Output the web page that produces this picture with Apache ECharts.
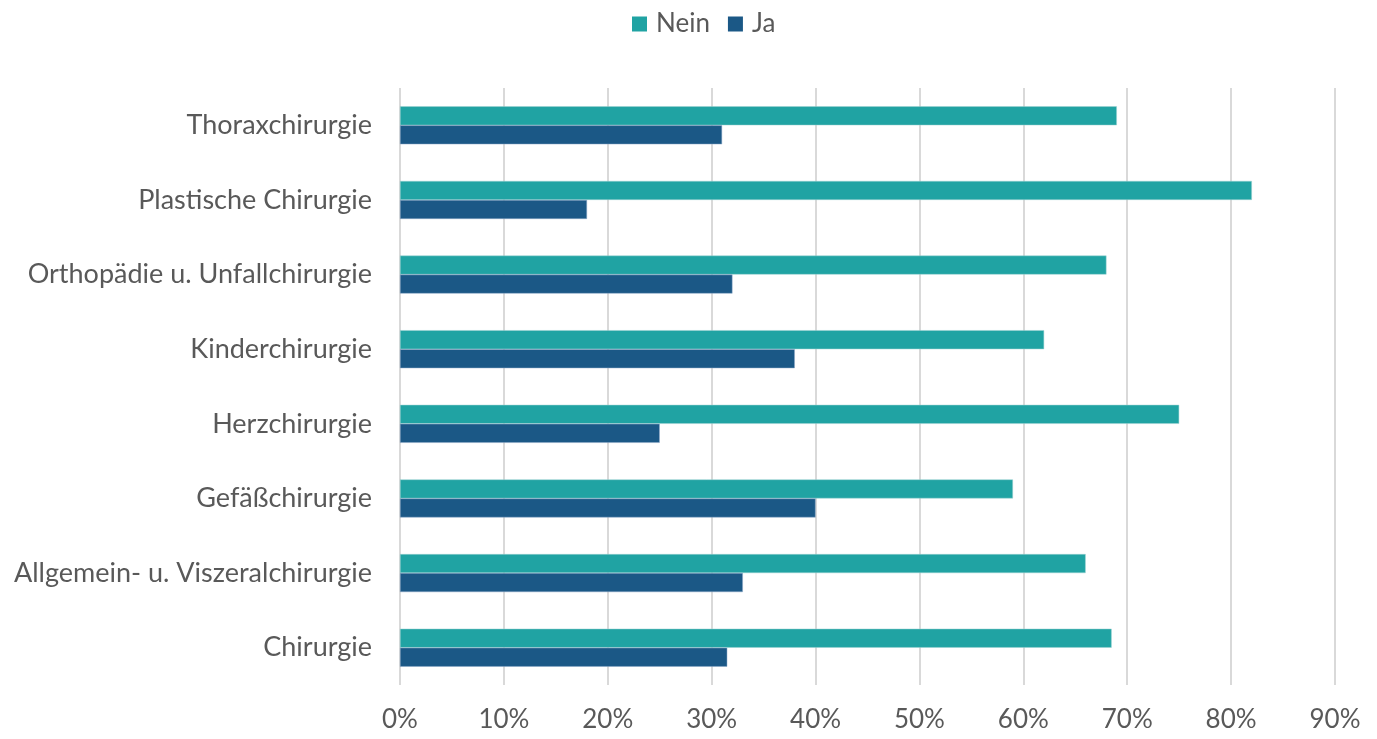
<!DOCTYPE html>
<html><head><meta charset="utf-8">
<script src="https://cdn.jsdelivr.net/npm/echarts@6/dist/echarts.min.js"></script>
<style>html,body{margin:0;padding:0;background:#fff}#c{width:1377px;height:739px}</style>
</head><body><div id="c"></div>
<script>
const categories = ["Chirurgie","Allgemein- u. Viszeralchirurgie","Gefäßchirurgie","Herzchirurgie","Kinderchirurgie","Orthopädie u. Unfallchirurgie","Plastische Chirurgie","Thoraxchirurgie"];
const nein = [68.5, 66, 59, 75, 62, 68, 82, 69];
const ja = [31.5, 33, 40, 25, 38, 32, 18, 31];
const chart = echarts.init(document.getElementById('c'));
const font = "Lato, sans-serif";
chart.setOption({
  animation:false,
  textStyle:{fontFamily:font},
  legend:{data:["Nein","Ja"],top:6,left:627,icon:'rect',itemWidth:15,itemHeight:15,itemGap:18,
    itemStyle:{borderWidth:0},
    textStyle:{fontSize:26,color:'#595959',fontFamily:font,padding:[0,0,0,4]}},
  grid:{left:400,right:42,top:88,bottom:54,containLabel:false},
  xAxis:{type:'value',min:0,max:90,interval:10,
    axisLabel:{formatter:'{value}%',fontSize:26,color:'#595959',margin:22,fontFamily:font},
    axisLine:{show:false},axisTick:{show:false},
    splitLine:{show:true,lineStyle:{color:'#d9d9d9',width:2}}},
  yAxis:{type:'category',data:categories,
    axisLabel:{fontSize:27,color:'#595959',margin:28,fontFamily:font},
    axisLine:{show:false},axisTick:{show:false}},
  series:[
    {name:'Nein',type:'bar',data:nein,barWidth:19,barGap:'0%',itemStyle:{color:'#20a3a3',borderColor:'#9fd3d3',borderWidth:0.5}},
    {name:'Ja',type:'bar',data:ja,barWidth:19,barGap:'0%',itemStyle:{color:'#1b5886',borderColor:'#8ea9c8',borderWidth:0.5}}
  ]
});
</script></body></html>
